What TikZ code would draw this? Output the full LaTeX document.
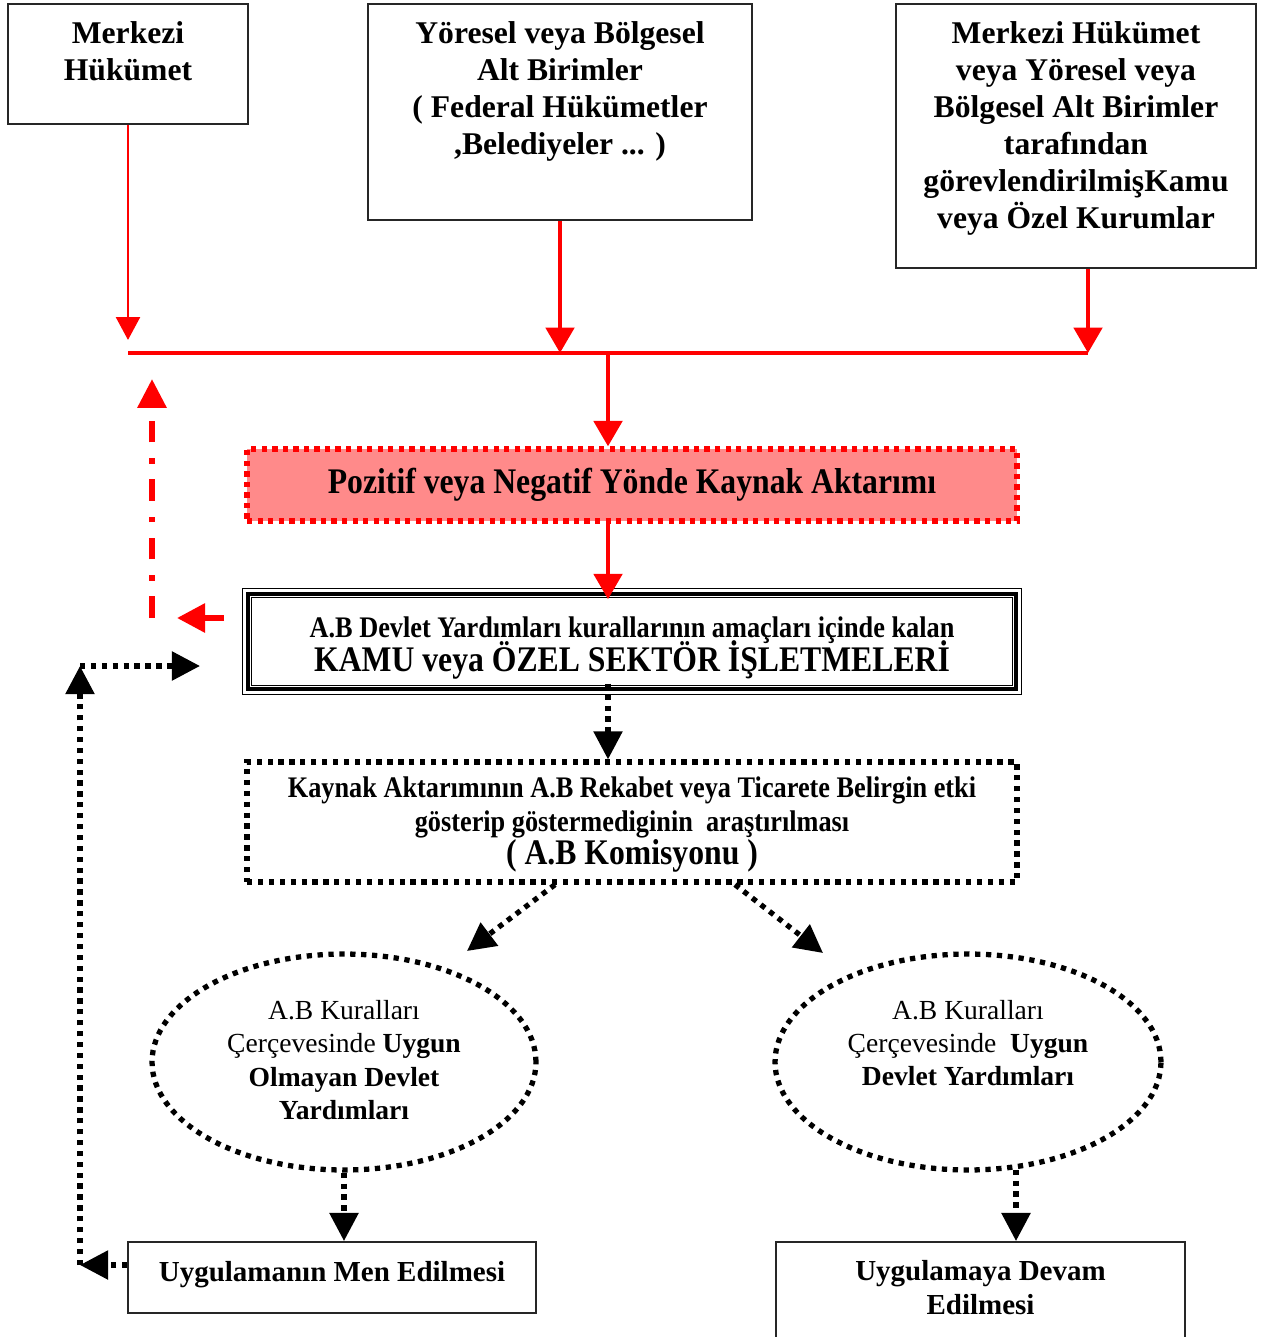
\documentclass[tikz,border=0pt]{standalone}
\usepackage{fontspec}
\setmainfont{Liberation Serif}
\newfontfamily\darfont[FakeStretch=0.88]{Liberation Serif}
\usetikzlibrary{arrows.meta,positioning,shapes.geometric,calc}

\definecolor{aktpembe}{RGB}{255,138,138}
\newcommand{\sikisatir}{\setlength{\lineskiplimit}{-20pt}}

\tikzset{
  kutu/.style={draw=black!85, line width=1.1pt, rectangle, inner sep=0pt},
  kutuyazi/.style={font=\bfseries\fontsize{18}{21}\selectfont, align=center, inner sep=0pt},
  kirmizi/.style={draw=red, line width=2.8pt, -{Triangle[width=16pt,length=14.5pt]}},
  incekirmizi/.style={draw=red, line width=1.7pt, -{Triangle[width=13.5pt,length=13pt]}},
  noktali/.style={draw=black, line width=3pt, dash pattern=on 3pt off 3.2pt, -{Triangle[width=16pt,length=16pt]}},
  noktalikenar/.style={draw=black, line width=3pt, dash pattern=on 3pt off 3.2pt},
  elyazi/.style={font=\fontsize{15.7}{19}\selectfont, align=center, inner sep=0pt}
}

\begin{document}
\begin{tikzpicture}[x=0.02cm, y=-0.02cm]
  \useasboundingbox (0,0) rectangle (1265,1337);

  % ust kutular
  \node[kutu, minimum width=4.8cm, minimum height=2.4cm] (mh) at (128,64) {};
  \node[kutuyazi] (mh-t) at (128,51.5) {Merkezi\\Hükümet};
  \node[kutu, minimum width=7.68cm, minimum height=4.32cm] (yb) at (560,112) {};
  \node[kutuyazi] (yb-t) at (560,91.5) {Yöresel veya Bölgesel\\Alt Birimler\\( Federal Hükümetler\\,Belediyeler ... )};
  \node[kutu, minimum width=7.2cm, minimum height=5.28cm] (mk) at (1076,136) {};
  \node[kutuyazi] (mk-t) at (1076,128.5) {Merkezi Hükümet\\veya Yöresel veya\\Bölgesel Alt Birimler\\tarafından\\görevlendirilmişKamu\\veya Özel Kurumlar};

  % toplama cizgisi
  \coordinate (hl) at (128,353);
  \coordinate (hm) at (560,353);
  \coordinate (hr) at (1088,353);
  \coordinate (hd) at (608,353);
  \coordinate (c1) at (128,340);

  \draw[incekirmizi] (mh.south) -- (c1);
  \draw[kirmizi] (yb.south) -- (hm);
  \draw[kirmizi] (mk.south -| hr) -- (hr);
  \draw[draw=red, line width=2.8pt] (hl) -- (hr);

  % kaynak aktarimi
  \node[draw=red, fill=aktpembe, line width=3pt, dash pattern=on 3pt off 3pt,
        minimum width=15.4cm, minimum height=1.44cm, inner sep=0pt,
        font=\darfont\bfseries\fontsize{20.5}{24}\selectfont] (pozitif) at (632,485)
        {Pozitif veya Negatif Yönde Kaynak Aktarımı};
  \draw[kirmizi] (hd) -- (hd |- pozitif.north);

  % isletmeler
  \node[kutu, draw=black, line width=2pt, minimum width=15.36cm, minimum height=1.9cm,
        align=center, font={\darfont\bfseries\fontsize{17}{19.3}\selectfont\sikisatir}] (kamu) at (632,641.5)
        {\rule{0pt}{19pt}A.B Devlet Yardımları kurallarının amaçları içinde kalan\\
         {\fontsize{20.5}{19.3}\selectfont KAMU veya ÖZEL SEKTÖR İŞLETMELERİ}};
  \draw[line width=0.6pt] ([shift={(-4,-4)}]kamu.north west) rectangle ([shift={(4,4)}]kamu.south east);
  \draw[line width=0.6pt] ([shift={(5,5)}]kamu.north west) rectangle ([shift={(-5,-5)}]kamu.south east);
  \draw[kirmizi] (hd |- pozitif.south) -- ([yshift=-4]hd |- kamu.north);

  % geri donus (kirmizi)
  \coordinate (g1) at (152,618);
  \coordinate (g2) at (152,379);
  \coordinate (g3) at (224,618);
  \coordinate (g4) at (177,618);
  \draw[draw=red, line width=3.4pt, dash pattern=on 12.3pt off 9pt on 3pt off 9pt,
        -{Triangle[width=16pt,length=16.5pt]}] (g1) -- (g2);
  \draw[draw=red, line width=3.4pt, -{Triangle[width=16pt,length=16pt]}] (g3) -- (g4);

  % inceleme
  \node[noktalikenar, minimum width=15.4cm, minimum height=2.4cm, inner sep=0pt,
        align=center, font={\darfont\bfseries\fontsize{17}{19}\selectfont\sikisatir}] (kaynak) at (632,822)
        {\rule{0pt}{15pt}Kaynak Aktarımının A.B Rekabet veya Ticarete Belirgin etki\\
         gösterip göstermediginin\ \ araştırılması\\
         {\fontsize{20.5}{19}\selectfont ( A.B Komisyonu )}};
  \draw[noktali] ([yshift=4]hd |- kamu.south) -- (hd |- kaynak.north);

  % degerlendirme
  \node[noktalikenar, ellipse, minimum width=7.68cm, minimum height=4.32cm] (solda) at (344,1062) {};
  \node[elyazi] (solda-t) at (344,1060) {A.B Kuralları\\Çerçevesinde \textbf{Uygun}\\\textbf{Olmayan Devlet}\\\textbf{Yardımları}};
  \node[noktalikenar, ellipse, minimum width=7.72cm, minimum height=4.32cm] (sagda) at (968,1062) {};
  \node[elyazi] (sagda-t) at (968,1043) {A.B Kuralları\\Çerçevesinde\ \ \textbf{Uygun}\\\textbf{Devlet Yardımları}};

  \draw[noktali] ($(kaynak.south)+(-77,0)$) -- (467,951);
  \draw[noktali] ($(kaynak.south)+(103,0)$) -- (823,953);

  % sonuc kutulari
  \node[kutu, minimum width=8.16cm, minimum height=1.42cm,
        font=\bfseries\fontsize{16.5}{19}\selectfont] (men) at (332,1277.5) {\raisebox{7pt}{Uygulamanın Men Edilmesi}};
  \node[kutu, minimum width=8.18cm, minimum height=2.06cm] (devam) at (980.5,1293.5) {};
  \node[font=\bfseries\fontsize{16.5}{19}\selectfont, align=center, inner sep=0pt] (devam-t) at (980.5,1287.5) {Uygulamaya Devam\\Edilmesi};
  \coordinate (sd) at ($(sagda.south)+(48,-3)$);
  \draw[noktali] (solda.south) -- (solda.south |- men.north);
  \draw[noktali] (sd) -- (sd |- devam.north);

  % geri donus (noktali)
  \coordinate (g5) at (80,1265);
  \coordinate (g6) at (80,666);
  \coordinate (g7) at (200,666);
  \draw[noktali] (men.west |- g5) -- (g5);
  \draw[noktali] (g5) -- (g6);
  \draw[noktali] (g6) -- (g7);
\end{tikzpicture}
\end{document}
